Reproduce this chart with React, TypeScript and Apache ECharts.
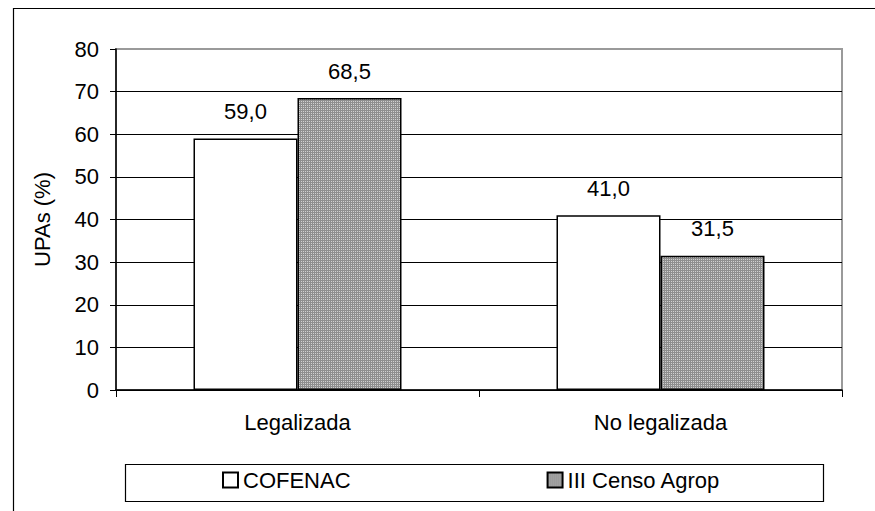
import React, { useEffect, useRef } from "react";
import * as echarts from "echarts";

const categories = ["Legalizada", "No legalizada"];
const seriesNames = ["COFENAC", "III Censo Agrop"];
const cofenacValues = [59.0, 41.0];
const censoValues = [68.5, 31.5];
const yMin = 0;
const yMax = 80;
const yInterval = 10;
const yAxisTitle = "UPAs (%)";

const FONT = "'Liberation Sans', Arial, sans-serif";
const FS = 22;

function makePattern(): string {
  const c = document.createElement("canvas");
  c.width = 2;
  c.height = 2;
  const ctx = c.getContext("2d")!;
  ctx.fillStyle = "#d0d0d0";
  ctx.fillRect(0, 0, 2, 2);
  ctx.fillStyle = "#8e8e8e";
  ctx.fillRect(0, 0, 2, 1);
  ctx.fillRect(0, 0, 1, 2);
  return c.toDataURL();
}

const fmt = (v: number) => v.toFixed(1).replace(".", ",");

export default function App() {
  const ref = useRef<HTMLDivElement>(null);
  useEffect(() => {
    document.body.style.margin = "0";
    const chart = echarts.init(ref.current!, undefined, { renderer: "svg" });
    const patternFill: any = { image: makePattern(), repeat: "repeat" };
    const nSplit = (yMax - yMin) / yInterval + 1;
    const splitColors = Array.from({ length: nSplit }, (_, i) =>
      i === nSplit - 1 ? "#9a9a9a" : "#000000"
    );
    const labelCfg = {
      show: true,
      position: "top",
      distance: 16,
      color: "#000",
      fontSize: FS,
      fontFamily: FONT,
      formatter: (p: any) => fmt(p.value),
    };
    chart.setOption({
      animation: false,
      backgroundColor: "#fff",
      textStyle: { fontFamily: FONT },
      grid: {
        left: 116,
        right: 33,
        top: 49,
        bottom: 121,
        show: true,
        borderColor: "#9a9a9a",
        borderWidth: 2,
        backgroundColor: "transparent",
      },
      legend: {
        data: seriesNames,
        left: 222,
        top: 469,
        padding: 0,
        itemWidth: 15,
        itemHeight: 15,
        itemGap: 196,
        icon: "rect",
        textStyle: { fontSize: FS, fontFamily: FONT, color: "#000" },
      },
      xAxis: {
        type: "category",
        data: categories,
        axisLine: { lineStyle: { color: "#000", width: 1.5 } },
        axisTick: { show: true, length: 7, lineStyle: { color: "#000" } },
        axisLabel: { fontSize: FS, color: "#000", margin: 21, fontFamily: FONT },
        splitLine: { show: false },
      },
      yAxis: {
        type: "value",
        min: yMin,
        max: yMax,
        interval: yInterval,
        name: yAxisTitle,
        nameLocation: "middle",
        nameGap: 63,
        nameTextStyle: { fontSize: FS, color: "#000", fontFamily: FONT },
        axisLine: { show: true, lineStyle: { color: "#000", width: 1.5 } },
        axisTick: { show: true, length: 6, lineStyle: { color: "#000" } },
        axisLabel: { fontSize: FS, color: "#000", margin: 17, fontFamily: FONT },
        splitLine: { show: true, lineStyle: { color: splitColors, width: 1 } },
      },
      series: [
        {
          name: seriesNames[0],
          type: "bar",
          data: cofenacValues,
          barWidth: 104,
          barGap: "0%",
          itemStyle: { color: "#ffffff", borderColor: "#000", borderWidth: 1.5 },
          label: labelCfg,
        },
        {
          name: seriesNames[1],
          type: "bar",
          data: censoValues,
          barWidth: 104,
          barGap: "0%",
          itemStyle: { color: patternFill, borderColor: "#000", borderWidth: 1.5 },
          label: labelCfg,
        },
      ],
      graphic: [
        {
          type: "rect",
          left: 11,
          top: 6,
          shape: { width: 900, height: 600 },
          style: { fill: "none", stroke: "#000", lineWidth: 1.2 },
          silent: true,
        },
        {
          type: "rect",
          left: 123,
          top: 462,
          shape: { width: 698, height: 37 },
          style: { fill: "none", stroke: "#000", lineWidth: 1.2 },
          silent: true,
        },
      ],
    });
    return () => chart.dispose();
  }, []);
  return <div ref={ref} style={{ width: 875, height: 511 }} />;
}
